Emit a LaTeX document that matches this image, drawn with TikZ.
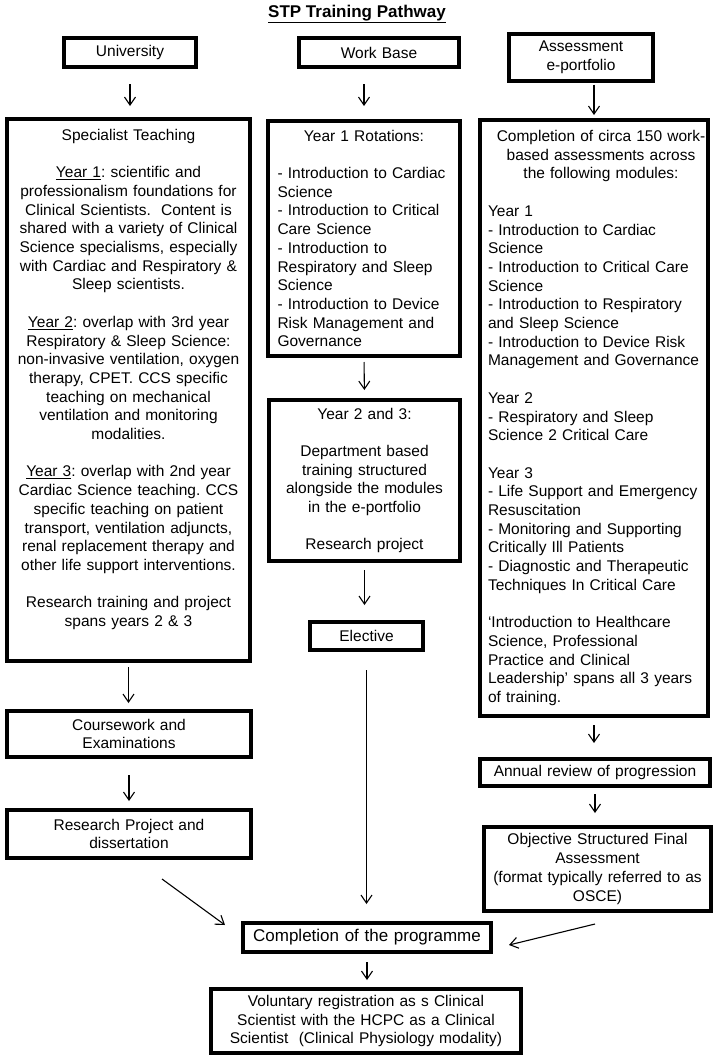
\documentclass[tikz,border=0pt]{standalone}
\usepackage{fontspec}
\setmainfont{Liberation Sans}
\usepackage{tikz}
\usetikzlibrary{calc,arrows.meta}
\setlength{\parindent}{0pt}
\frenchspacing
\newcommand{\bodyfont}{\fontsize{15.5}{18.7}\selectfont}
\newcommand{\bigfont}{\fontsize{17}{20}\selectfont}
\newcommand{\titlefont}{\fontsize{17}{20}\selectfont\bfseries}
\newcommand{\gap}{\\[\baselineskip]}
\tikzset{
  Stage/.style={
    draw=black, line width=4pt,
    inner xsep=6pt, inner ysep=0pt,
    font=\bodyfont
  },
  Box/.style={Stage, align=center},
  Flow/.style={
    draw=black, line width=1.1pt,
    -{Straight Barb[length=8pt,width=11pt]}
  }
}

\begin{document}
\begin{tikzpicture}[x=1pt, y=-1pt]
  \useasboundingbox (0,0) rectangle (720,1063);
  \fill[white] (0,0) rectangle (720,1063);

  \node[font=\titlefont] (title) at (357,14) {\underline{STP Training Pathway}};

  % column heads
  \node[Box, text width=120pt, minimum height=29pt] (uni) at (130,52.5) {University};
  \node[Box, text width=148pt, minimum height=29pt] (work) at (379,52.5) {Work Base};
  \node[Box, text width=132pt, minimum height=47pt] (assess) at (581,57) {Assessment\\e-portfolio};

  % university column
  \node[Box, text width=231pt, minimum height=542pt] (spec) at (128.5,390) {%
    Specialist Teaching\gap
    \underline{Year 1}: scientific and\\
    professionalism foundations for\\
    Clinical Scientists.\ \ Content is\\
    shared with a variety of Clinical\\
    Science specialisms, especially\\
    with Cardiac and Respiratory \&\\
    Sleep scientists.\gap
    \underline{Year 2}: overlap with 3rd year\\
    Respiratory \& Sleep Science:\\
    non-invasive ventilation, oxygen\\
    therapy, CPET. CCS specific\\
    teaching on mechanical\\
    ventilation and monitoring\\
    modalities.\gap
    \underline{Year 3}: overlap with 2nd year\\
    Cardiac Science teaching. CCS\\
    specific teaching on patient\\
    transport, ventilation adjuncts,\\
    renal replacement therapy and\\
    other life support interventions.\gap
    Research training and project\\
    spans years 2 \& 3\\
    \strut};
  \node[Box, text width=232pt, minimum height=46pt] (course) at (129,734) {Coursework and\\Examinations};
  \node[Box, text width=232pt, minimum height=48pt] (research) at (129,834) {Research Project and\\dissertation};

  % work base column
  \node[Stage, inner xsep=9.5pt, text width=173pt, minimum height=235pt] (yr1) at (364,238.5) {%
    {\centering Year 1 Rotations:\par}
    \vspace{\baselineskip}
    \raggedright
    - Introduction to Cardiac\\
    Science\\
    - Introduction to Critical\\
    Care Science\\
    - Introduction to\\
    Respiratory and Sleep\\
    Science\\
    - Introduction to Device\\
    Risk Management and\\
    Governance};
  \node[Box, text width=179pt, minimum height=161pt] (yr2) at (364.5,480.5) {%
    Year 2 and 3:\gap
    Department based\\
    training structured\\
    alongside the modules\\
    in the e-portfolio\gap
    Research project};
  \node[Box, text width=101pt, minimum height=28pt] (elective) at (366.5,636) {Elective};

  % e-portfolio column
  \node[Stage, inner xsep=8pt, text width=212pt, minimum height=596pt] (modules) at (594,418) {%
    {\centering\leftskip=8pt plus 1fil\rightskip=-6pt plus 1fil
    Completion of circa 150 work-\\
    based assessments across\\
    the following modules:\par}
    \vspace{\baselineskip}
    \raggedright
    Year 1\\
    - Introduction to Cardiac\\
    Science\\
    - Introduction to Critical Care\\
    Science\\
    - Introduction to Respiratory\\
    and Sleep Science\\
    - Introduction to Device Risk\\
    Management and Governance\\[\baselineskip]
    Year 2\\
    - Respiratory and Sleep\\
    Science 2 Critical Care\\[\baselineskip]
    Year 3\\
    - Life Support and Emergency\\
    Resuscitation\\
    - Monitoring and Supporting\\
    Critically Ill Patients\\
    - Diagnostic and Therapeutic\\
    Techniques In Critical Care\\[\baselineskip]
    ‘Introduction to Healthcare\\
    Science, Professional\\
    Practice and Clinical\\
    Leadership’ spans all 3 years\\
    of training.};
  \node[Box, text width=218pt, minimum height=27pt] (annual) at (595,772.5) {Annual review of progression};
  \node[Box, text width=215pt, minimum height=84pt] (osfa) at (597.5,869) {%
    Objective Structured Final\\
    Assessment\\
    (format typically referred to as\\
    OSCE)};

  % end of the programme
  \node[Box, font=\bigfont, text width=236pt, minimum height=29pt] (compl) at (367,937.5) {Completion of the programme};
  \node[Box, text width=298pt, minimum height=64pt] (volun) at (366,1021) {%
    Voluntary registration as s Clinical\\
    Scientist with the HCPC as a Clinical\\
    Scientist\ \ (Clinical Physiology modality)};

  % arrows
  \draw[Flow, shorten <=15pt, shorten >=11pt] (uni.south) -- (uni.south |- spec.north);
  \draw[Flow, shorten <=15pt, shorten >=13pt] (work.south -| yr1.north) -- (yr1.north);
  \draw[Flow, shorten <=2pt, shorten >=3pt] (assess.south -| modules.north) -- (modules.north);
  \draw[Flow, shorten <=4pt, shorten >=6pt] (spec.south) -- (spec.south |- course.north);
  \draw[Flow, shorten <=16pt, shorten >=7pt] (course.south) -- (research.north);
  \draw[Flow, shorten <=4pt, shorten >=8pt] (yr1.south) -- (yr2.north);
  \draw[Flow, shorten <=7pt, shorten >=15pt] (yr2.south) -- (yr2.south |- elective.north);
  \draw[Flow, shorten <=18pt, shorten >=17pt] (elective.south) -- (elective.south |- compl.north);
  \draw[Flow, shorten <=7pt, shorten >=14pt] (modules.south) -- (modules.south |- annual.north);
  \draw[Flow, shorten <=6pt, shorten >=12pt] (annual.south) -- (annual.south |- osfa.north);
  \draw[Flow, shorten <=8pt, shorten >=7pt] (compl.south) -- (compl.south |- volun.north);
  \draw[Flow] ($(research.south)+(33,19)$) -- ($(compl.north west)+(-16,4)$);
  \draw[Flow] ($(osfa.south)+(-2.5,11)$) -- ($(compl.east)+(16,7.5)$);
\end{tikzpicture}
\end{document}
